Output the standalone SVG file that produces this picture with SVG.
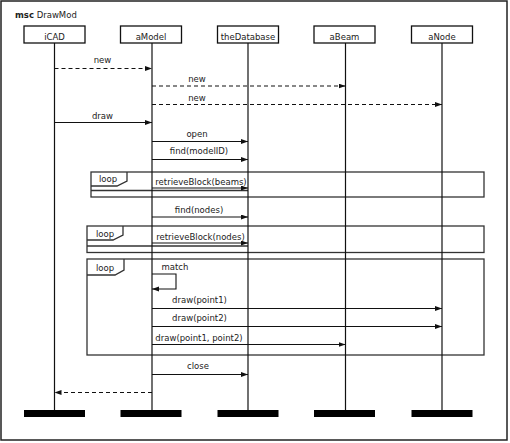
<svg xmlns="http://www.w3.org/2000/svg" width="510" height="443" viewBox="0 0 510 443">
<style>
text{font-family:"DejaVu Sans","Liberation Sans",sans-serif;font-size:8.5px;fill:#222}
.c{text-anchor:middle}
.box{fill:#fff;stroke:#111;stroke-width:1.3}
.life{stroke:#111;stroke-width:1.2}
.bar{fill:#000}
.msg{stroke:#111;stroke-width:1.1;fill:none}
.dash{stroke-dasharray:4,3}
.loop{fill:none;stroke:#333;stroke-width:1.3}
</style>
<defs>
<marker id="ah" markerUnits="userSpaceOnUse" markerWidth="8" markerHeight="6" refX="7" refY="2.5" orient="auto">
<path d="M0,0 L7,2.5 L0,5 z" fill="#111"/>
</marker>
</defs>
<rect x="1" y="1" width="506" height="439" fill="#fff" stroke="#222" stroke-width="1.5"/>
<text x="15" y="17.5"><tspan font-weight="bold">msc</tspan> DrawMod</text>

<g id="loops">
<g id="loop1">
<rect class="loop" x="91" y="172" width="393" height="25"/>
<path class="loop" d="M91,186 H117 L127,181 V172"/>
<line class="loop" x1="91" y1="190.5" x2="248" y2="190.5"/>
<text x="99" y="182">loop</text>
</g>
<g id="loop2">
<rect class="loop" x="87" y="226" width="397" height="26.5"/>
<path class="loop" d="M87,240 H113 L123,235 V226"/>
<line class="loop" x1="87" y1="246" x2="248" y2="246"/>
<text x="96" y="236.5">loop</text>
</g>
<g id="loop3">
<rect class="loop" x="87" y="259" width="397" height="96"/>
<path class="loop" d="M87,275 H115 L124,270 V259"/>
<text x="96" y="270.5">loop</text>
</g>
</g>

<g id="iCAD">
<line class="life" x1="54.5" y1="43" x2="54.5" y2="410"/>
<rect class="box" x="24" y="26" width="61" height="17"/>
<text class="c" x="54.5" y="39.5">iCAD</text>
<rect class="bar" x="24" y="410" width="61" height="7"/>
</g>
<g id="aModel">
<line class="life" x1="152" y1="43" x2="152" y2="410"/>
<rect class="box" x="120.5" y="26" width="61" height="17"/>
<text class="c" x="151" y="39.5">aModel</text>
<rect class="bar" x="120.5" y="410" width="61" height="7"/>
</g>
<g id="theDatabase">
<line class="life" x1="248" y1="43" x2="248" y2="410"/>
<rect class="box" x="217.5" y="26" width="61" height="17"/>
<text class="c" x="248" y="39.5">theDatabase</text>
<rect class="bar" x="217.5" y="410" width="61" height="7"/>
</g>
<g id="aBeam">
<line class="life" x1="345.5" y1="43" x2="345.5" y2="410"/>
<rect class="box" x="314" y="26" width="61" height="17"/>
<text class="c" x="344.5" y="39.5">aBeam</text>
<rect class="bar" x="314" y="410" width="61" height="7"/>
</g>
<g id="aNode">
<line class="life" x1="442" y1="43" x2="442" y2="410"/>
<rect class="box" x="411.5" y="26" width="61" height="17"/>
<text class="c" x="442" y="39.5">aNode</text>
<rect class="bar" x="411.5" y="410" width="61" height="7"/>
</g>

<g id="connectors">
<line class="msg dash" x1="54.5" y1="68.5" x2="152" y2="68.5" marker-end="url(#ah)"/>
<text class="c" x="102.5" y="63">new</text>
<line class="msg dash" x1="152" y1="86" x2="345.5" y2="86" marker-end="url(#ah)"/>
<text class="c" x="197" y="82">new</text>
<line class="msg dash" x1="152" y1="104.5" x2="442" y2="104.5" marker-end="url(#ah)"/>
<text class="c" x="197" y="100.5">new</text>
<line class="msg" x1="54.5" y1="122.5" x2="152" y2="122.5" marker-end="url(#ah)"/>
<text class="c" x="102.5" y="119">draw</text>
<line class="msg" x1="152" y1="141.5" x2="248" y2="141.5" marker-end="url(#ah)"/>
<text class="c" x="197" y="137">open</text>
<line class="msg" x1="152" y1="159.5" x2="248" y2="159.5" marker-end="url(#ah)"/>
<text class="c" x="199" y="153.5">find(modelID)</text>
<line class="msg" x1="152" y1="188" x2="248" y2="188" marker-end="url(#ah)"/>
<text class="c" x="201" y="184.5">retrieveBlock(beams)</text>
<line class="msg" x1="152" y1="217" x2="248" y2="217" marker-end="url(#ah)"/>
<text class="c" x="199" y="212.5">find(nodes)</text>
<line class="msg" x1="152" y1="243" x2="248" y2="243" marker-end="url(#ah)"/>
<text class="c" x="200.5" y="239.5">retrieveBlock(nodes)</text>
<path class="msg" d="M152,274 H176 V289 H152" marker-end="url(#ah)"/>
<text x="161.5" y="269.5">match</text>
<line class="msg" x1="152" y1="308.5" x2="442" y2="308.5" marker-end="url(#ah)"/>
<text class="c" x="199.5" y="303">draw(point1)</text>
<line class="msg" x1="152" y1="326.5" x2="442" y2="326.5" marker-end="url(#ah)"/>
<text class="c" x="199.5" y="321">draw(point2)</text>
<line class="msg" x1="152" y1="344.5" x2="345.5" y2="344.5" marker-end="url(#ah)"/>
<text class="c" x="199" y="341">draw(point1, point2)</text>
<line class="msg" x1="152" y1="374.5" x2="248" y2="374.5" marker-end="url(#ah)"/>
<text class="c" x="198" y="369">close</text>
<line class="msg dash" x1="152" y1="392.5" x2="54.5" y2="392.5" marker-end="url(#ah)"/>
</g>
</svg>
